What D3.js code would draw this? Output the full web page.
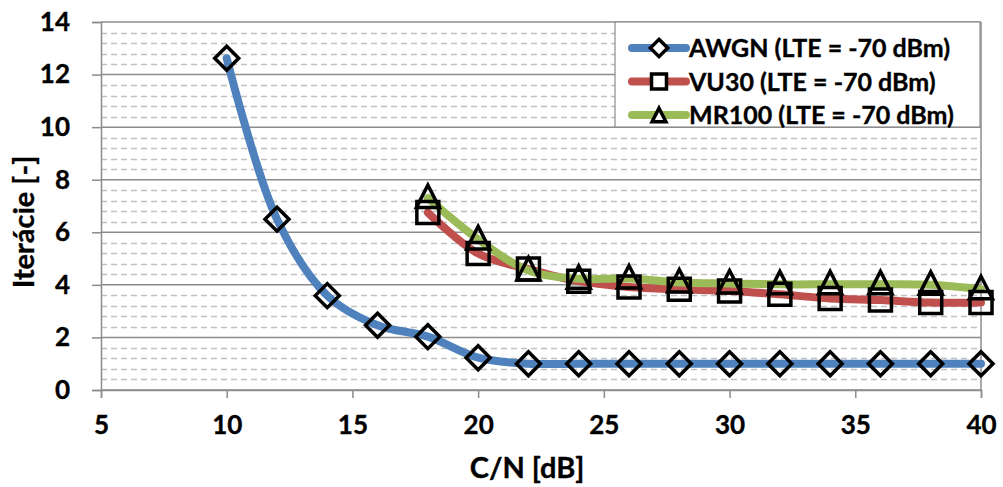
<!DOCTYPE html>
<html><head><meta charset="utf-8">
<script src="https://cdn.jsdelivr.net/npm/d3@7"></script>
<style>body{margin:0;background:#fff}svg{display:block}text{font-family:Lato,"Liberation Sans",sans-serif;font-weight:bold;fill:#000;stroke:#000;stroke-width:0.35px}</style>
</head><body><svg id="c" width="1003" height="487"></svg>
<script>
const xAwgn = [10,12,14,16,18,20,22,24,26,28,30,32,34,36,38,40];
const awgn  = [12.62,6.5,3.59,2.46,2.03,1.23,1.0,1.0,1.0,1.0,1.0,1.0,1.0,1.0,1.0,1.0];
const xFade = [18,20,22,24,26,28,30,32,34,36,38,40];
const vu30  = [6.75,5.19,4.6,4.14,3.92,3.83,3.77,3.64,3.48,3.42,3.33,3.33];
const mr100 = [7.3,5.73,4.55,4.23,4.24,4.09,4.05,4.02,4.02,4.02,4.0,3.83];
const seriesNames = ["AWGN (LTE = -70 dBm)","VU30 (LTE = -70 dBm)","MR100 (LTE = -70 dBm)"];
const xTicks = [5,10,15,20,25,30,35,40];
const yTicks = [0,2,4,6,8,10,12,14];
const xTitle = "C/N [dB]";
const yTitle = "Iterácie [-]";

const svg = d3.select("#c");
const L=101,R=981,T=22,B=390;
const x = d3.scaleLinear().domain([5,40]).range([L,R]);
const y = d3.scaleLinear().domain([0,14]).range([B,T]);

// minor gridlines
const minor = d3.range(0,14.001,0.4).filter(v=>Math.abs(v/2-Math.round(v/2))>1e-6);
svg.append("g").selectAll("line").data(minor).join("line")
  .attr("x1",L).attr("x2",R).attr("y1",d=>Math.round(y(d))+0.5).attr("y2",d=>Math.round(y(d))+0.5)
  .attr("stroke","#c0c0c0").attr("stroke-width",1.3).attr("stroke-dasharray","6,4");
// major gridlines
svg.append("g").selectAll("line").data(yTicks).join("line")
  .attr("x1",L).attr("x2",R).attr("y1",d=>y(d)).attr("y2",d=>y(d))
  .attr("stroke","#8c8c8c").attr("stroke-width",1.5);
// right border
svg.append("line").attr("x1",R).attr("x2",R).attr("y1",T).attr("y2",B).attr("stroke","#8c8c8c").attr("stroke-width",1.5);

// axes
const gx = svg.append("g").attr("transform",`translate(0,${B})`)
  .call(d3.axisBottom(x).tickValues(xTicks).tickSize(8).tickPadding(18).tickFormat(d3.format("d")));
const gy = svg.append("g").attr("transform",`translate(${L},0)`)
  .call(d3.axisLeft(y).tickValues(yTicks).tickSize(9).tickPadding(22).tickFormat(d3.format("d")));
[gx,gy].forEach(g=>{
  g.select(".domain").attr("stroke","#8c8c8c").attr("stroke-width",1.5);
  g.selectAll(".tick line").attr("stroke","#8c8c8c").attr("stroke-width",1.5);
  g.selectAll("text").style("font-size","26px").attr("font-family",null).attr("fill",null);
});
gx.selectAll("text").attr("dy","0.71em");

svg.append("text").attr("x",527).attr("y",478).attr("text-anchor","middle").style("font-size","29px").text(xTitle);
svg.append("text").attr("transform",`translate(34,222) rotate(-90)`).attr("text-anchor","middle").style("font-size","29px").text(yTitle);

const colors = ["#4F81BD","#C0504D","#9BBB59"];
const series = [
  {xs:xAwgn, ys:awgn, shape:"diamond"},
  {xs:xFade, ys:vu30, shape:"square"},
  {xs:xFade, ys:mr100, shape:"triangle"}
];
const line = d3.line().x(d=>x(d[0])).y(d=>y(d[1])).curve(d3.curveCatmullRom.alpha(0.5));
function markerPath(shape){
  if(shape==="diamond") return "M0,-12L12,0L0,12L-12,0Z";
  if(shape==="square") return "M-11,-11H11V11H-11Z";
  return "M0,-13L11.5,9.5H-11.5Z";
}
series.forEach((s,i)=>{
  const pts = s.xs.map((v,j)=>[v,s.ys[j]]);
  svg.append("path").datum(pts).attr("d",line).attr("fill","none").attr("stroke",colors[i])
    .attr("stroke-width",8).attr("stroke-linecap","round").attr("stroke-linejoin","round");
});
series.forEach((s,i)=>{
  const pts = s.xs.map((v,j)=>[v,s.ys[j]]);
  svg.append("g").selectAll("path").data(pts).join("path")
    .attr("transform",d=>`translate(${x(d[0])},${y(d[1])})`)
    .attr("d",markerPath(s.shape)).attr("fill","none").attr("stroke","#000").attr("stroke-width",3.5)
    .attr("stroke-linejoin","miter");
});

// legend
const lg = svg.append("g");
lg.append("rect").attr("x",615).attr("y",22).attr("width",365).attr("height",105)
  .attr("fill","#fff").attr("stroke","#8c8c8c").attr("stroke-width",1.2);
seriesNames.forEach((n,i)=>{
  const cy = 48 + i*33.5;
  lg.append("line").attr("x1",632).attr("x2",686).attr("y1",cy).attr("y2",cy)
    .attr("stroke",colors[i]).attr("stroke-width",8).attr("stroke-linecap","round");
  const sc = i===0?0.72:(i===1?0.68:0.6);
  lg.append("path").attr("transform",`translate(659,${cy+(i===2?1:0)}) scale(${sc})`)
    .attr("d",markerPath(series[i].shape)).attr("fill","#fff").attr("stroke","#000").attr("stroke-width",3.5/sc);
  lg.append("text").attr("x",689).attr("y",cy).attr("dy","0.36em").style("font-size","25px").text(n);
});
</script></body></html>
